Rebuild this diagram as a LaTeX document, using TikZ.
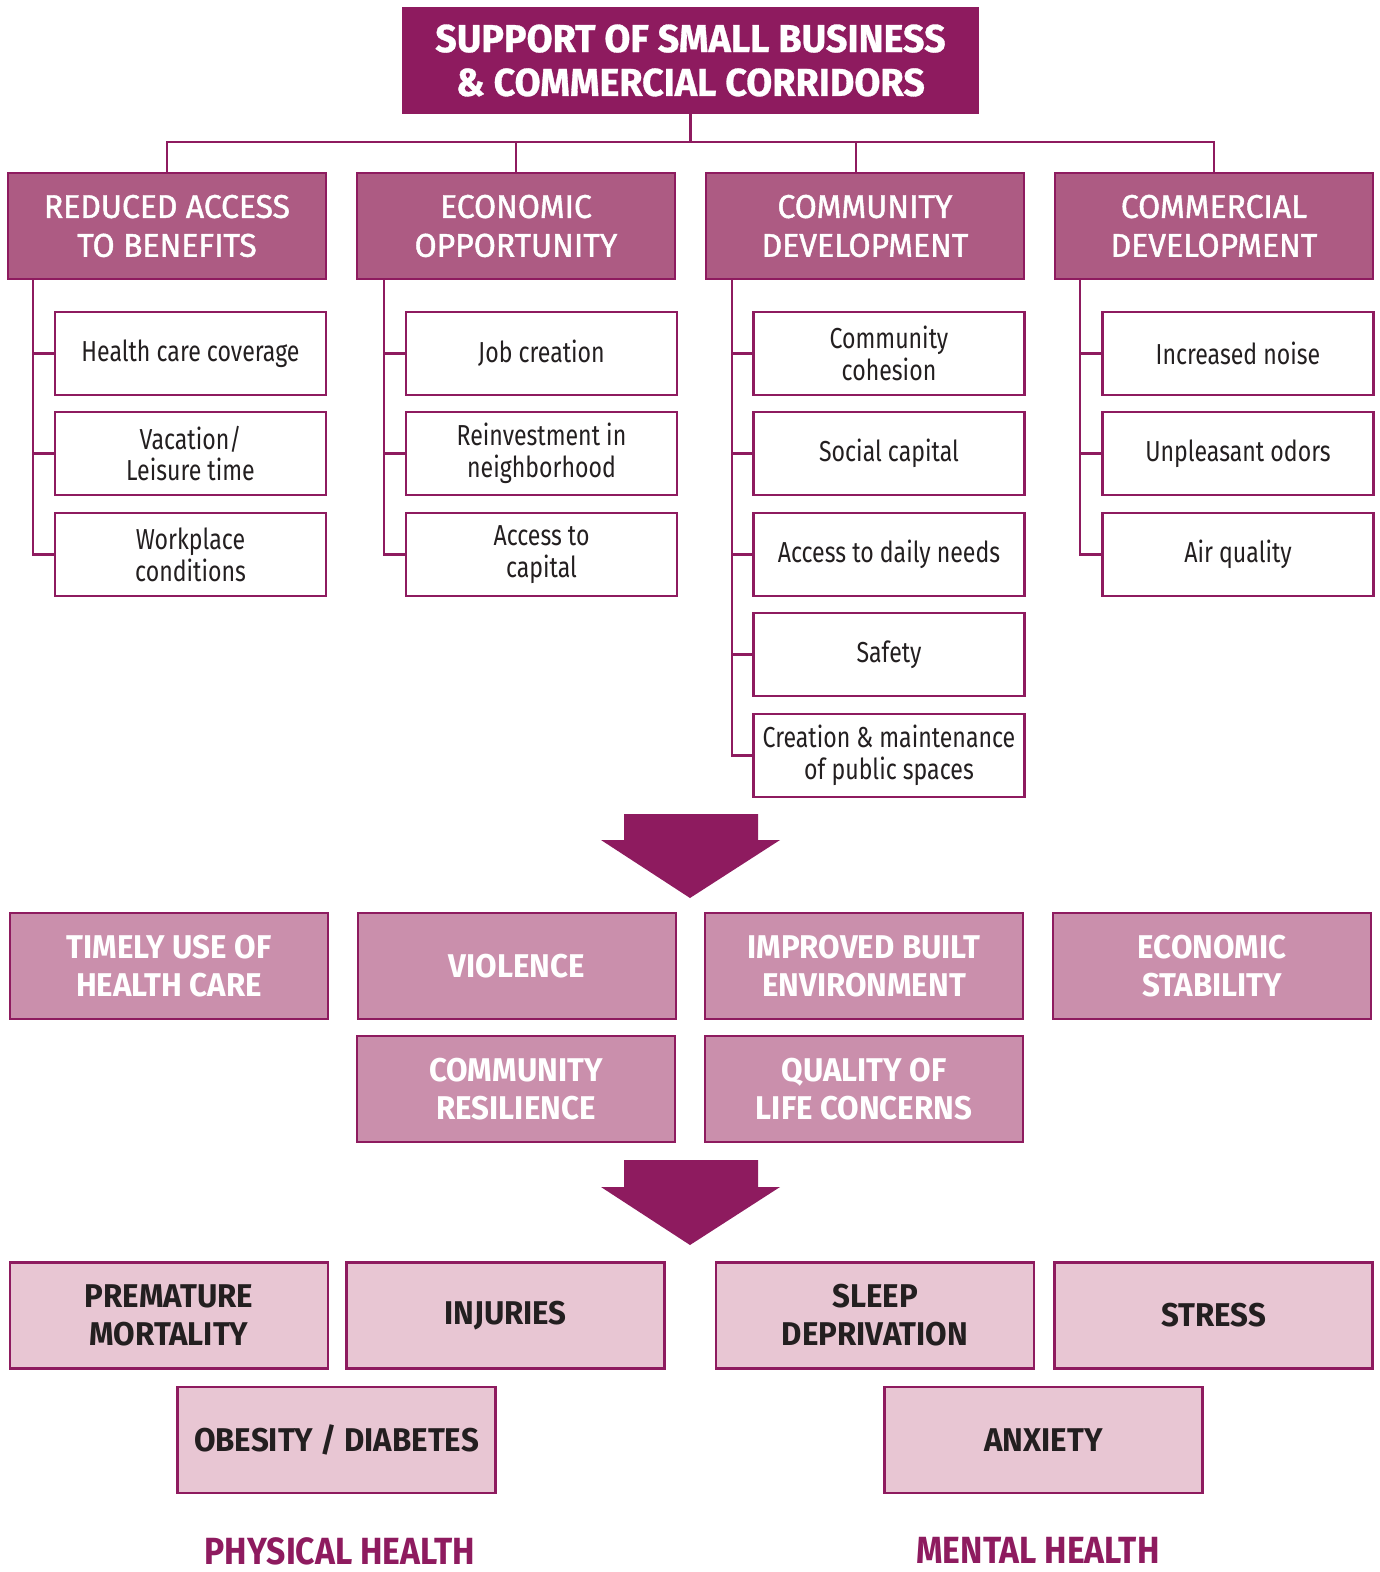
\documentclass[tikz,border=0pt]{standalone}
\usepackage{fontspec}
\setmainfont{Fira Sans}
\newfontfamily\titlef{Fira Sans}[FakeStretch=0.97, FakeBold=0.8]
\newfontfamily\catf{Fira Sans}[FakeStretch=0.97, FakeBold=1.4]
\newfontfamily\capsf{Fira Sans}[FakeStretch=0.95]
\newfontfamily\labf{Fira Sans}[FakeStretch=0.89]
\newfontfamily\itemf{Fira Sans}[FakeStretch=0.8]
\usetikzlibrary{calc}
\definecolor{plum}{HTML}{8E1B5F}
\definecolor{catfill}{HTML}{AD5B83}
\definecolor{midfill}{HTML}{CA8FAC}
\definecolor{botfill}{HTML}{E8C6D3}
\definecolor{ink}{HTML}{231F20}
\begin{document}
\begin{tikzpicture}[x=0.5bp,y=-0.5bp,
 box/.style={draw=plum, line width=1.2pt, inner sep=0pt, align=center, rectangle},
 titlebox/.style={box, fill=plum, text=white, minimum width=287.5bp, minimum height=52.5bp, font=\titlef\bfseries\fontsize{19.5}{22}\selectfont},
 catbox/.style={box, fill=catfill, text=white, minimum width=159bp, minimum height=53bp, font=\catf\fontsize{16.5}{19.5}\selectfont},
 itembox/.style={box, fill=white, text=ink, minimum width=135.5bp, minimum height=41.5bp, font=\itemf\fontsize{14.5}{16}\selectfont},
 midbox/.style={box, fill=midfill, text=white, minimum width=159bp, minimum height=53bp, font=\capsf\bfseries\fontsize{16.5}{19}\selectfont},
 botbox/.style={box, fill=botfill, text=ink, minimum width=159bp, minimum height=53bp, font=\capsf\bfseries\fontsize{16.5}{19}\selectfont},
 conn/.style={draw=plum, line width=1.2pt},
 bigarrow/.style={fill=plum},
 grouplabel/.style={text=plum, inner sep=0pt, anchor=north, font=\labf\bfseries\fontsize{19}{21}\selectfont}
]
\useasboundingbox (0,0) rectangle (1380,1572);
\clip (0,0) rectangle (1380,1572);

% title
\node[titlebox] (title) at (690.5,60.5) {SUPPORT OF SMALL BUSINESS\\\& COMMERCIAL CORRIDORS};

% categories
\node[catbox] (cat1) at (167,226) {REDUCED ACCESS\\TO BENEFITS};
\node[catbox] (cat2) at (516,226) {ECONOMIC\\OPPORTUNITY};
\node[catbox] (cat3) at (865,226) {COMMUNITY\\DEVELOPMENT};
\node[catbox] (cat4) at (1214,226) {COMMERCIAL\\DEVELOPMENT};

% bus
\coordinate (bus) at (0,142);
\coordinate (c3top) at ([xshift=-4.5bp]cat3.north);
\draw[conn] (title.south) -- (title.south |- bus);
\draw[conn] (cat1.north) -- (cat1.north |- bus) -- (cat4.north |- bus) -- (cat4.north);
\draw[conn] (cat2.north) -- (cat2.north |- bus);
\draw[conn] (c3top) -- (c3top |- bus);

% items
\node[itembox] (a1) at (190.5,353.5) {Health care coverage};
\node[itembox] (a2) at (190.5,453.5) {Vacation/\\Leisure time};
\node[itembox] (a3) at (190.5,554.5) {Workplace\\conditions};
\node[itembox] (b1) at (541.5,353.5) {Job creation};
\node[itembox] (b2) at (541.5,453.5) {Reinvestment in\\neighborhood};
\node[itembox] (b3) at (541.5,554.5) {Access to\\capital};
\node[itembox] (c1) at (889,353.5) {Community\\cohesion};
\node[itembox] (c2) at (889,453.5) {Social capital};
\node[itembox] (c3) at (889,554.5) {Access to daily needs};
\node[itembox] (c4) at (889,654.5) {Safety};
\node[itembox] (c5) at (889,755.5) {Creation \& maintenance\\of public spaces};
\node[itembox] (d1) at (1238,353.5) {Increased noise};
\node[itembox] (d2) at (1238,453.5) {Unpleasant odors};
\node[itembox] (d3) at (1238,554.5) {Air quality};

% spines
\coordinate (s1) at ([xshift=13bp]cat1.south west);
\coordinate (s2) at ([xshift=14bp]cat2.south west);
\coordinate (s3) at ([xshift=13.5bp]cat3.south west);
\coordinate (s4) at ([xshift=13bp]cat4.south west);
\draw[conn] (s1) |- (a3.west);
\draw[conn] (s1 |- a1.west) -- (a1.west);
\draw[conn] (s1 |- a2.west) -- (a2.west);
\draw[conn] (s2) |- (b3.west);
\draw[conn] (s2 |- b1.west) -- (b1.west);
\draw[conn] (s2 |- b2.west) -- (b2.west);
\draw[conn] (s3) |- (c5.west);
\draw[conn] (s3 |- c1.west) -- (c1.west);
\draw[conn] (s3 |- c2.west) -- (c2.west);
\draw[conn] (s3 |- c3.west) -- (c3.west);
\draw[conn] (s3 |- c4.west) -- (c4.west);
\draw[conn] (s4) |- (d3.west);
\draw[conn] (s4 |- d1.west) -- (d1.west);
\draw[conn] (s4 |- d2.west) -- (d2.west);

% arrow 1
\fill[bigarrow] (624,814) -- (758,814) -- (758,840) -- (780,840) -- (690,898) -- (601,840) -- (624,840) -- cycle;

% middle
\node[midbox] (m1) at (169,966) {TIMELY USE OF\\HEALTH CARE};
\node[midbox] (m2) at (517,966) {VIOLENCE};
\node[midbox] (m3) at (864,966) {IMPROVED BUILT\\ENVIRONMENT};
\node[midbox] (m4) at (1212,966) {ECONOMIC\\STABILITY};
\node[midbox] (m5) at (516,1089) {COMMUNITY\\RESILIENCE};
\node[midbox] (m6) at (864,1089) {QUALITY OF\\LIFE CONCERNS};

% arrow 2
\fill[bigarrow] (624,1160) -- (758,1160) -- (758,1187) -- (780,1187) -- (690,1245) -- (601,1187) -- (624,1187) -- cycle;

% bottom
\node[botbox] (p1) at (169,1315.5) {PREMATURE\\MORTALITY};
\node[botbox] (p2) at (505.5,1315.5) {INJURIES};
\node[botbox] (p3) at (875,1315.5) {SLEEP\\DEPRIVATION};
\node[botbox] (p4) at (1213.5,1315.5) {STRESS};
\node[botbox] (p5) at (336.5,1440) {OBESITY / DIABETES};
\node[botbox] (p6) at (1043.5,1440) {ANXIETY};

\node[grouplabel] (phys) at (340,1537) {PHYSICAL HEALTH};
\node[grouplabel] (ment) at (1038,1537) {MENTAL HEALTH};
\end{tikzpicture}
\end{document}
